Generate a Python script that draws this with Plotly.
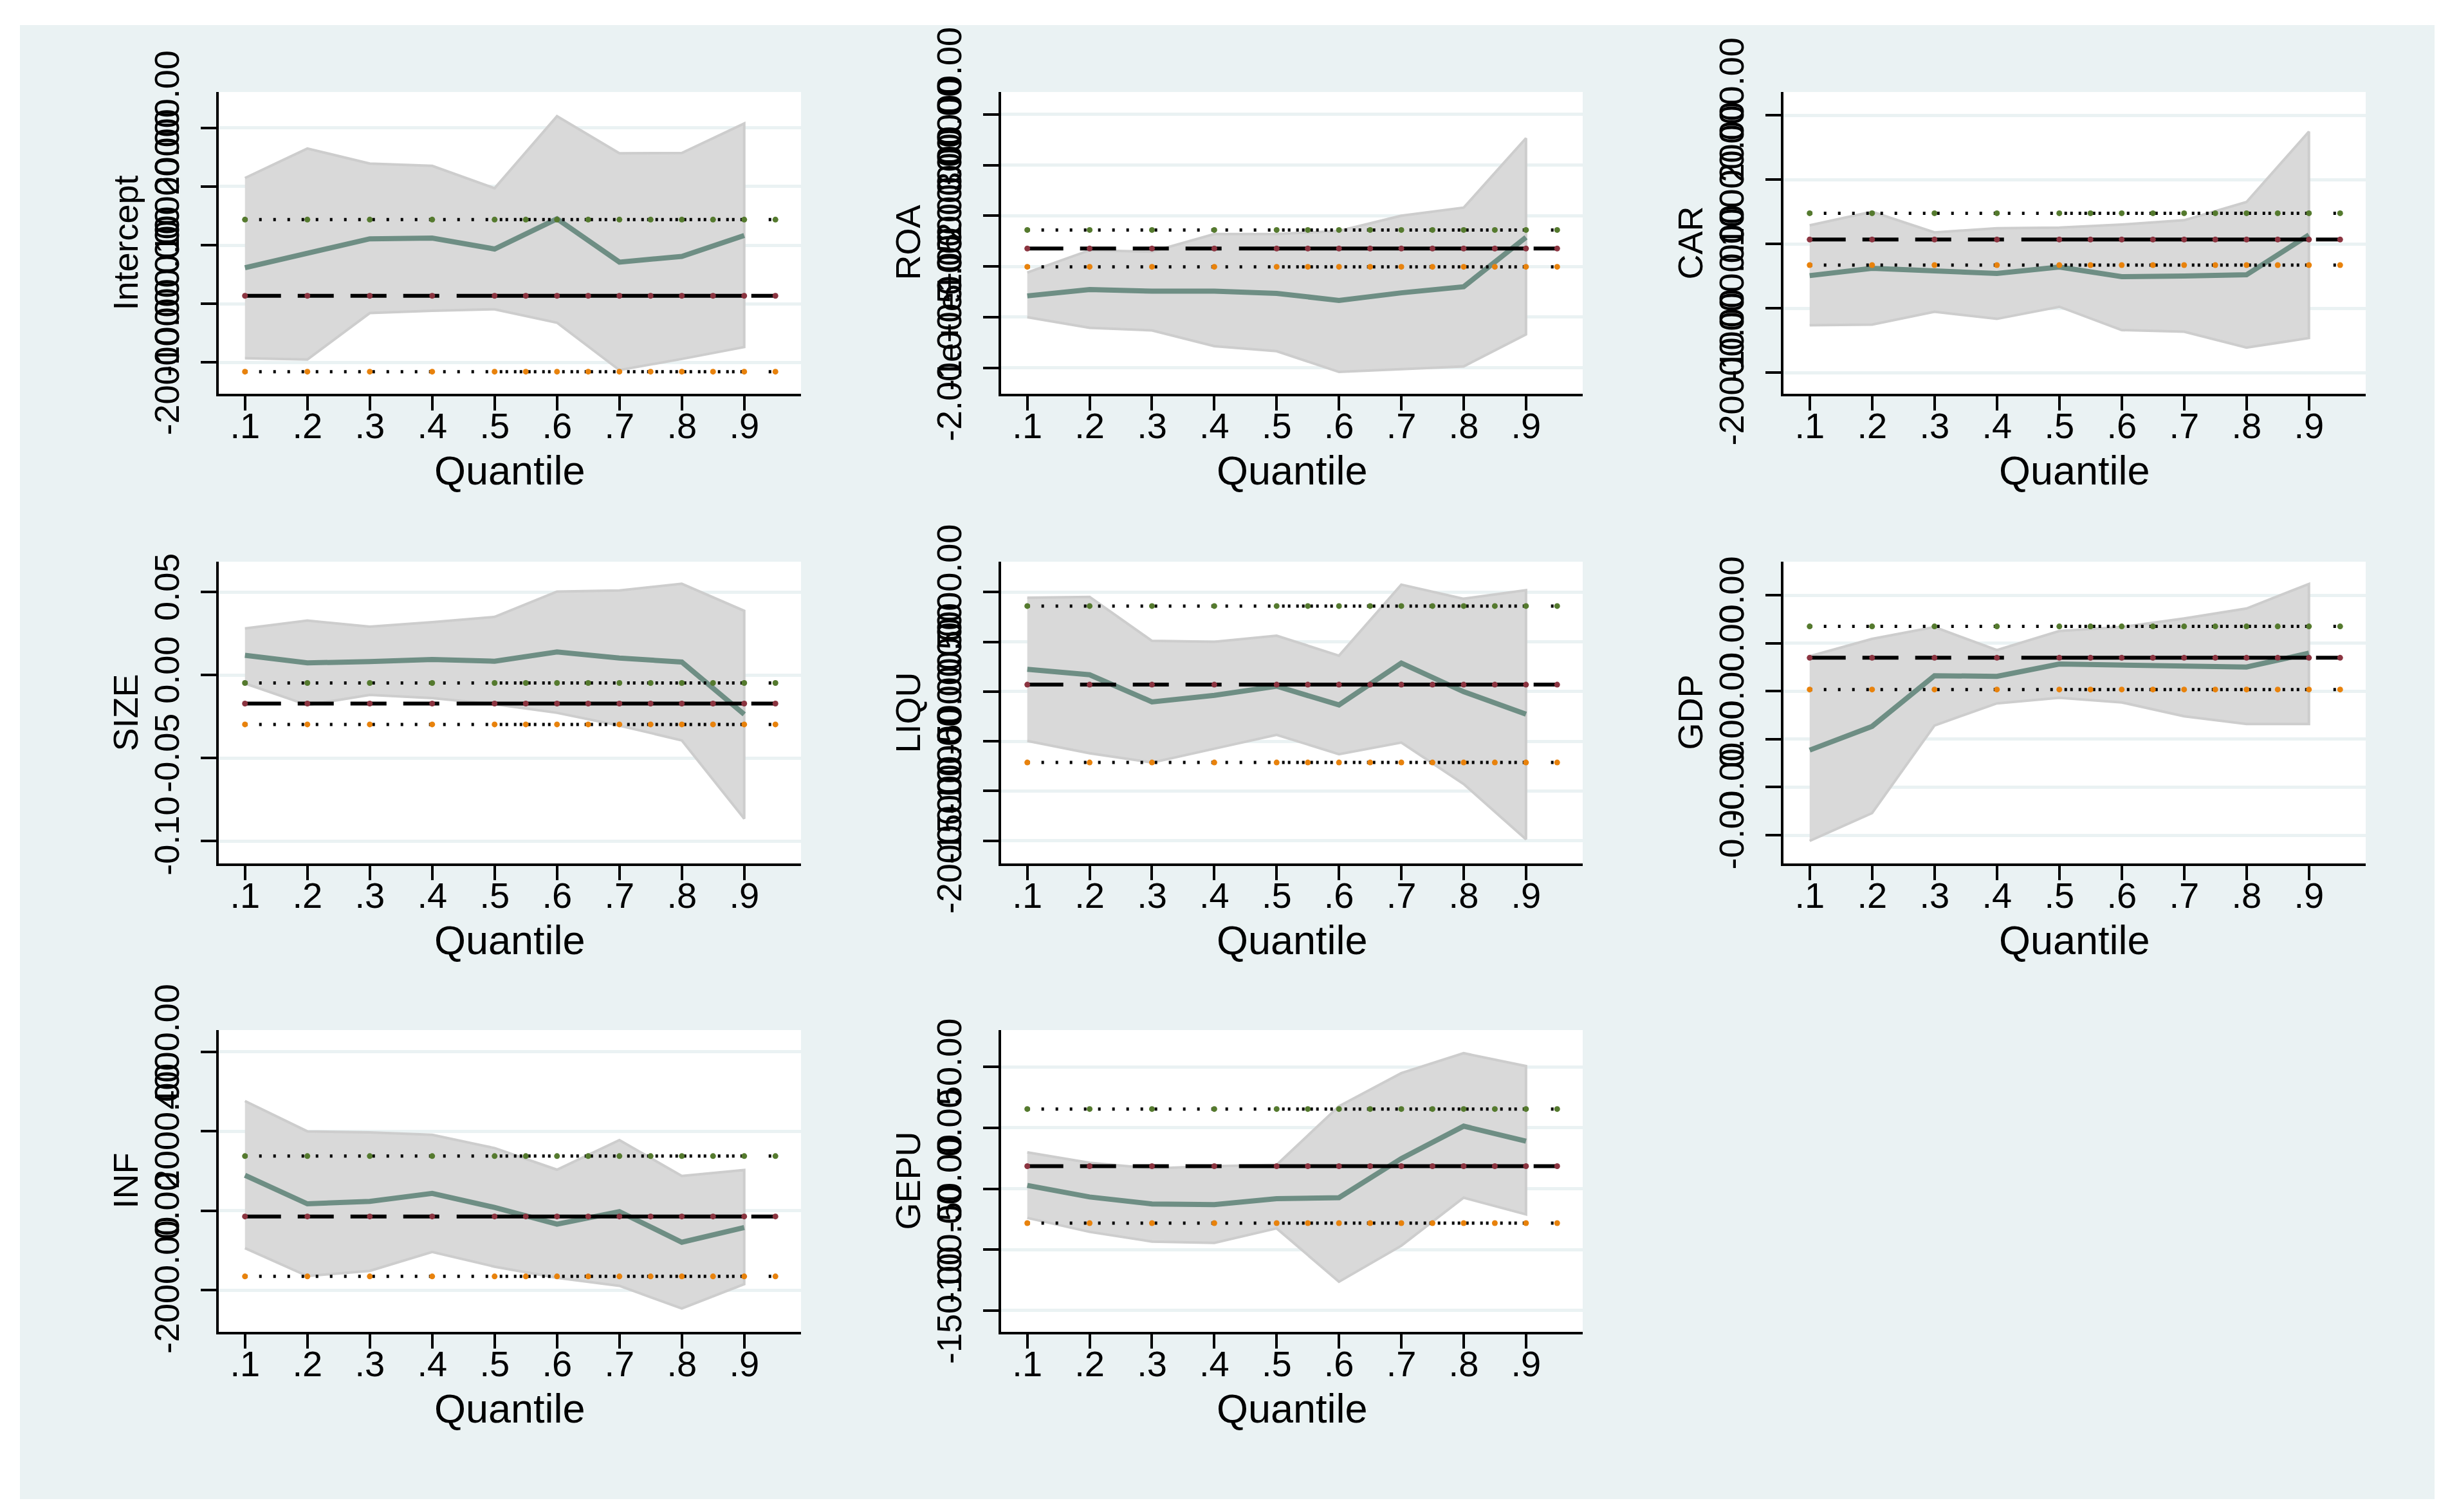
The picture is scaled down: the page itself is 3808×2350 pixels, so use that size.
import plotly.graph_objects as go

# ---------------- data ----------------
quantiles = [0.1, 0.2, 0.3, 0.4, 0.5, 0.6, 0.7, 0.8, 0.9]
q_labels = [".1", ".2", ".3", ".4", ".5", ".6", ".7", ".8", ".9"]
ols_x = [0.1, 0.2, 0.3, 0.4, 0.5, 0.55, 0.6, 0.65, 0.7, 0.75, 0.8, 0.85, 0.9, 0.95]

names = ["Intercept", "ROA", "CAR", "SIZE", "LIQU", "GDP", "INF", "GEPU"]

intercept_coef = [-3850, -1380, 1080, 1200, -660, 4500, -2900, -1920, 1650]
intercept_hi = [11460, 16500, 13920, 13540, 9710, 22020, 15680, 15730, 20770]
intercept_lo = [-19320, -19530, -11600, -11210, -10950, -13240, -21340, -19430, -17400]
intercept_ols = [-8650, -21610, 4360]          # coef, lower, upper
intercept_ticks = [-20000, -10000, 0, 10000, 20000]
intercept_ticktext = ["-20000.00", "-10000.00", "0.00", "10000.00", "20000.00"]
intercept_range = [-25380, 26150]

roa_coef = [-58000, -45400, -48600, -48600, -53000, -67000, -52000, -40000, 57500]
roa_hi = [-12000, 32000, 29000, 64000, 64000, 70000, 100000, 116000, 253000]
roa_lo = [-100000, -121000, -126000, -157000, -167000, -208000, -203000, -197000, -134000]
roa_ols = [35400, -600, 72000]
roa_ticks = [-200000, -100000, 0, 100000, 200000, 300000]
roa_ticktext = ["-2.00e+05", "-1.00e+05", "0.00", "100000.00", "200000.00", "300000.00"]
roa_range = [-251000, 344000]

car_coef = [-4940, -3800, -4200, -4600, -3600, -5100, -5000, -4800, 1380]
car_hi = [2870, 5000, 1780, 2420, 2520, 3000, 3670, 6500, 17450]
car_lo = [-12650, -12550, -10560, -11660, -9770, -13400, -13650, -16130, -14640]
car_ols = [680, -3300, 4760]
car_ticks = [-20000, -10000, 0, 10000, 20000]
car_ticktext = ["-20000.00", "-10000.00", "0.00", "10000.00", "20000.00"]
car_range = [-23300, 23600]

size_coef = [0.0120, 0.0074, 0.0082, 0.0094, 0.0084, 0.0140, 0.0103, 0.0079, -0.0236]
size_hi = [0.0282, 0.0329, 0.0292, 0.0319, 0.0351, 0.0504, 0.0510, 0.0551, 0.0388]
size_lo = [-0.0050, -0.0180, -0.0119, -0.0138, -0.0175, -0.0227, -0.0304, -0.0393, -0.0865]
size_ols = [-0.0171, -0.0297, -0.0047]
size_ticks = [-0.10, -0.05, 0.0, 0.05]
size_ticktext = ["-0.10", "-0.05", "0.00", "0.05"]
size_range = [-0.1135, 0.0684]

liqu_coef = [-2755, -3312, -6035, -5382, -4457, -6345, -2135, -5013, -7270]
liqu_hi = [4430, 4520, 97, 0, 620, -1390, 5757, 4334, 5200]
liqu_lo = [-9960, -11200, -12130, -10740, -9350, -11290, -10120, -14295, -19860]
liqu_ols = [-4300, -12130, 3600]
liqu_ticks = [-20000, -15000, -10000, -5000, 0, 5000]
liqu_ticktext = ["-20000.00", "-15000.00", "-10000.00", "-5000.00", "0.00", "5000.00"]
liqu_range = [-22280, 8060]

gdp_coef = [-0.000228, 0.000267, 0.001324, 0.00131, 0.001568, 0.001548, 0.001504, 0.001504, 0.001792]
gdp_hi = [0.00173, 0.00209, 0.002338, 0.001857, 0.002255, 0.002338, 0.002517, 0.002723, 0.003236]
gdp_lo = [-0.00212, -0.00154, 0.000286, 0.000747, 0.000862, 0.000767, 0.000477, 0.000318, 0.000318]
gdp_ols = [0.001697, 0.001036, 0.002351]
gdp_ticks = [-0.002, -0.001, 0.0, 0.001, 0.002, 0.003]
gdp_ticktext = ["-0.00", "-0.00", "0.00", "0.00", "0.00", "0.00"]
gdp_range = [-0.00259, 0.0037]

inf_coef = [895, 177, 238, 439, 87, -334, -18, -790, -421]
inf_hi = [2764, 2001, 1975, 1914, 1580, 1036, 1781, 878, 1027]
inf_lo = [-939, -1640, -1509, -1035, -1404, -1684, -1887, -2457, -1843]
inf_ols = [-141, -1650, 1378]
inf_ticks = [-2000, 0, 2000, 4000]
inf_ticktext = ["-2000.00", "0.00", "2000.00", "4000.00"]
inf_range = [-3045, 4550]

gepu_coef = [-47.3, -56.8, -62.5, -63.1, -58.2, -57.4, -25.2, 1.4, -10.9]
gepu_hi = [-20.1, -28.7, -33.3, -31.5, -30.4, 17.8, 45.0, 61.4, 50.8]
gepu_lo = [-74.0, -85.5, -93.5, -94.6, -82.6, -126.5, -96.9, -57.4, -71.1]
gepu_ols = [-31.5, -78.3, 15.5]
gepu_ticks = [-150, -100, -50, 0, 50]
gepu_ticktext = ["-150.00", "-100.00", "-50.00", "0.00", "50.00"]
gepu_range = [-167.7, 80.4]

panels = [
    (intercept_coef, intercept_hi, intercept_lo, intercept_ols, intercept_ticks, intercept_ticktext, intercept_range),
    (roa_coef, roa_hi, roa_lo, roa_ols, roa_ticks, roa_ticktext, roa_range),
    (car_coef, car_hi, car_lo, car_ols, car_ticks, car_ticktext, car_range),
    (size_coef, size_hi, size_lo, size_ols, size_ticks, size_ticktext, size_range),
    (liqu_coef, liqu_hi, liqu_lo, liqu_ols, liqu_ticks, liqu_ticktext, liqu_range),
    (gdp_coef, gdp_hi, gdp_lo, gdp_ols, gdp_ticks, gdp_ticktext, gdp_range),
    (inf_coef, inf_hi, inf_lo, inf_ols, inf_ticks, inf_ticktext, inf_range),
    (gepu_coef, gepu_hi, gepu_lo, gepu_ols, gepu_ticks, gepu_ticktext, gepu_range),
]

# ---------------- style ----------------
W, H = 3808, 2350
FONT = "Liberation Sans, Arial, Helvetica, sans-serif"
BG = "#EAF2F3"
BAND = "#D9D9D9"
BAND_EDGE = "#CDCDCD"
COEF = "#6E8E84"
GREEN = "#557A2E"
ORANGE = "#E8820C"
RED = "#8B3440"

col_px = [(332, 1237), (1548, 2452), (2764, 3669)]
row_px = [(135, 604), (865, 1334), (1593, 2062)]
x_range = [0.058, 0.991]

dash_ols = "56px,26px,56px,26px,56px,26px,56px,27px,447px,11px,40px,300px"
dot_parts = ["4px", "18px"] * 18 + ["4px", "5px", "4px", "9px"] * 17 + ["4px", "40px", "4px", "300px"]
dash_dot = ",".join(dot_parts)

fig = go.Figure()
layout = dict(
    width=W, height=H, autosize=False,
    margin=dict(l=0, r=0, t=0, b=0, pad=0, autoexpand=False),
    paper_bgcolor=BG, plot_bgcolor="white",
    showlegend=False,
    font=dict(family=FONT, color="black"),
    shapes=[], annotations=[],
)

for k, (coef, hi, lo, ols, ticks, ticktext, yr) in enumerate(panels):
    r, c = divmod(k, 3)
    n = k + 1
    xa = "x" if n == 1 else f"x{n}"
    ya = "y" if n == 1 else f"y{n}"
    xd = [col_px[c][0] / W, col_px[c][1] / W]
    yd = [1 - row_px[r][1] / H, 1 - row_px[r][0] / H]

    layout["xaxis" if n == 1 else f"xaxis{n}"] = dict(
        domain=xd, range=x_range, anchor=ya, automargin=False,
        tickmode="array", tickvals=quantiles, ticktext=q_labels, tickangle=0,
        showline=True, linecolor="black", linewidth=4,
        ticks="outside", ticklen=22, tickwidth=4, tickcolor="black",
        ticklabelstandoff=-24,
        showgrid=False, zeroline=False,
        tickfont=dict(size=56, family=FONT, color="black"),
    )
    layout["yaxis" if n == 1 else f"yaxis{n}"] = dict(
        domain=yd, range=yr, anchor=xa, automargin=False,
        tickmode="array", tickvals=ticks, ticktext=ticktext, tickangle=-90,
        showline=True, linecolor="black", linewidth=4,
        ticks="outside", ticklen=24, tickwidth=4, tickcolor="black",
        ticklabelstandoff=12,
        showgrid=True, gridcolor=BG, gridwidth=5, zeroline=False,
        tickfont=dict(size=54, family=FONT, color="black"),
    )

    # confidence band
    fig.add_trace(go.Scatter(
        x=quantiles + quantiles[::-1], y=hi + lo[::-1],
        fill="toself", fillcolor=BAND, mode="lines",
        line=dict(color=BAND_EDGE, width=4),
        xaxis=xa, yaxis=ya, hoverinfo="skip"))
    # quantile coefficients
    fig.add_trace(go.Scatter(
        x=quantiles, y=coef, mode="lines",
        line=dict(color=COEF, width=8),
        xaxis=xa, yaxis=ya))
    # OLS lines
    ols_coef, ols_lo, ols_hi = ols
    for val, mcol, dash in [(ols_hi, GREEN, dash_dot), (ols_lo, ORANGE, dash_dot), (ols_coef, RED, dash_ols)]:
        fig.add_trace(go.Scatter(
            x=ols_x, y=[val] * len(ols_x), mode="lines",
            line=dict(color="black", width=5 if dash is dash_dot else 6, dash=dash),
            xaxis=xa, yaxis=ya))
        fig.add_trace(go.Scatter(
            x=ols_x, y=[val] * len(ols_x), mode="markers",
            marker=dict(color=mcol, size=9, line=dict(width=0)),
            xaxis=xa, yaxis=ya))

    # axis titles
    layout["annotations"].append(dict(
        text=names[k], xref=f"{xa} domain", yref=f"{ya} domain",
        x=0, y=0.5, xshift=-146, xanchor="center", yanchor="middle",
        textangle=-90, showarrow=False, font=dict(size=54, family=FONT, color="black")))
    layout["annotations"].append(dict(
        text="Quantile", xref=f"{xa} domain", yref=f"{ya} domain",
        x=0.5, y=0, yshift=-119, xanchor="center", yanchor="middle",
        showarrow=False, font=dict(size=63, family=FONT, color="black")))

# white outer frame
for x0, x1, y0, y1 in [(0, 23 / W, 0, 1), (3776 / W, 1, 0, 1), (0, 1, 1 - 31 / H, 1), (0, 1, 0, 1 - 2322 / H)]:
    layout["shapes"].append(dict(type="rect", xref="paper", yref="paper",
                                 x0=x0, x1=x1, y0=y0, y1=y1,
                                 fillcolor="white", line=dict(width=0), layer="below"))

fig.update_layout(**layout)
fig.write_html("out.html")
